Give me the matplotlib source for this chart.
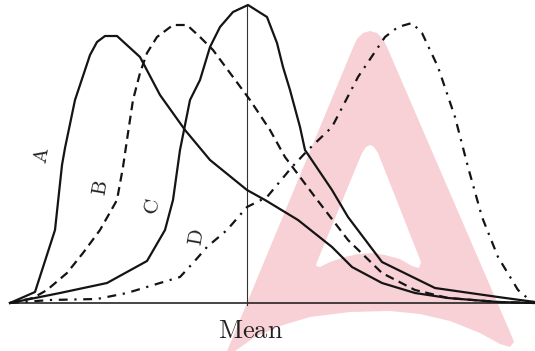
import matplotlib
matplotlib.use("Agg")
import matplotlib.pyplot as plt
from matplotlib.patches import Polygon

plt.rcParams['mathtext.fontset'] = 'cm'

# Curve data (x position, height above baseline)
a_x = [10, 35, 55, 62, 65, 75, 90, 97, 105, 117, 140, 160, 185, 210, 247, 265, 298, 332, 352, 382, 415, 448, 498, 535]
a_y = [0, 11, 73, 138, 155, 203, 248, 261, 267, 267, 246, 208, 173, 143, 113, 103, 83, 56, 36, 20, 10, 5, 1, 0]

b_x = [10, 33, 47, 67, 83, 100, 117, 123, 128, 133, 140, 147, 157, 173, 187, 200, 213, 233, 250, 270, 285, 315, 348, 382, 415, 448, 498, 535]
b_y = [0, 5, 13, 30, 50, 73, 103, 136, 170, 203, 230, 250, 266, 278, 278, 266, 253, 226, 203, 173, 146, 106, 63, 30, 13, 5, 1, 0]

c_x = [10, 60, 107, 147, 165, 173, 180, 190, 200, 210, 220, 233, 248, 267, 277, 283, 290, 300, 305, 332, 348, 382, 435, 498, 535]
c_y = [0, 10, 20, 42, 73, 103, 153, 203, 223, 256, 276, 291, 298, 286, 260, 236, 213, 176, 153, 113, 86, 41, 15, 6, 1]

d_x = [10, 50, 97, 127, 160, 180, 193, 207, 227, 247, 267, 292, 308, 332, 358, 385, 398, 412, 422, 438, 455, 468, 482, 498, 518, 532]
d_y = [0, 3, 4, 10, 20, 26, 40, 56, 73, 96, 106, 136, 153, 176, 226, 266, 276, 280, 270, 236, 186, 136, 86, 46, 13, 1]

labels = ['A', 'B', 'C', 'D']
label_x = [42, 100, 152, 197]
label_y = [148, 115, 96, 66]

mean_x = 247
mean_label = 'Mean'

fig = plt.figure(figsize=(5.35, 3.51), dpi=100)
ax = fig.add_axes([0, 0, 1, 1])
ax.set_xlim(0, 535)
ax.set_ylim(-48, 303)
ax.axis('off')

# watermark (pixel coords -> data)
def P(pts):
    return [(x, 303 - y) for x, y in pts]

outer = P([(225, 356), (352, 50), (357, 39), (363, 33), (370, 31), (377, 33), (383, 39),
           (387, 47), (510, 332), (514, 342), (510, 347), (500, 344), (480, 333),
           (450, 321), (420, 314), (390, 311), (350, 312), (310, 317), (280, 326),
           (255, 337), (235, 351), (230, 356)])
inner = P([(317, 262), (362, 153), (366, 147), (370, 145), (374, 147), (378, 153),
           (421, 262), (419, 268), (412, 266), (400, 259), (385, 255), (373, 253),
           (358, 254), (345, 257), (330, 262), (320, 267), (316, 266)])
ax.add_patch(Polygon(outer, closed=True, facecolor='#f8d1d6', edgecolor='none', zorder=0))
ax.add_patch(Polygon(inner, closed=True, facecolor='white', edgecolor='none', zorder=0.5))

col = '#141414'
ax.plot(a_x, a_y, color=col, lw=1.6, zorder=3)
ax.plot(b_x, b_y, color=col, lw=1.6, dashes=(4, 2.5), zorder=3)
ax.plot(c_x, c_y, color=col, lw=1.6, zorder=3)
ax.plot(d_x, d_y, color=col, lw=1.6, dashes=(4, 3, 1, 3), zorder=3)

# baseline and mean line
ax.plot([10, 535], [0, 0], color=col, lw=1.1, zorder=2)
ax.plot([mean_x, mean_x], [-2, 298], color='#333333', lw=0.8, zorder=2)

for t, x, y in zip(labels, label_x, label_y):
    ax.text(x, y, r'$\mathrm{%s}$' % t, fontsize=15, rotation=80,
            ha='center', va='center', color='#222222', zorder=4)

ax.text(251, 303 - 331, r'$\mathrm{%s}$' % mean_label, fontsize=19,
        ha='center', va='center', color='#222222', zorder=4)

fig.savefig('out.png', dpi=100)
